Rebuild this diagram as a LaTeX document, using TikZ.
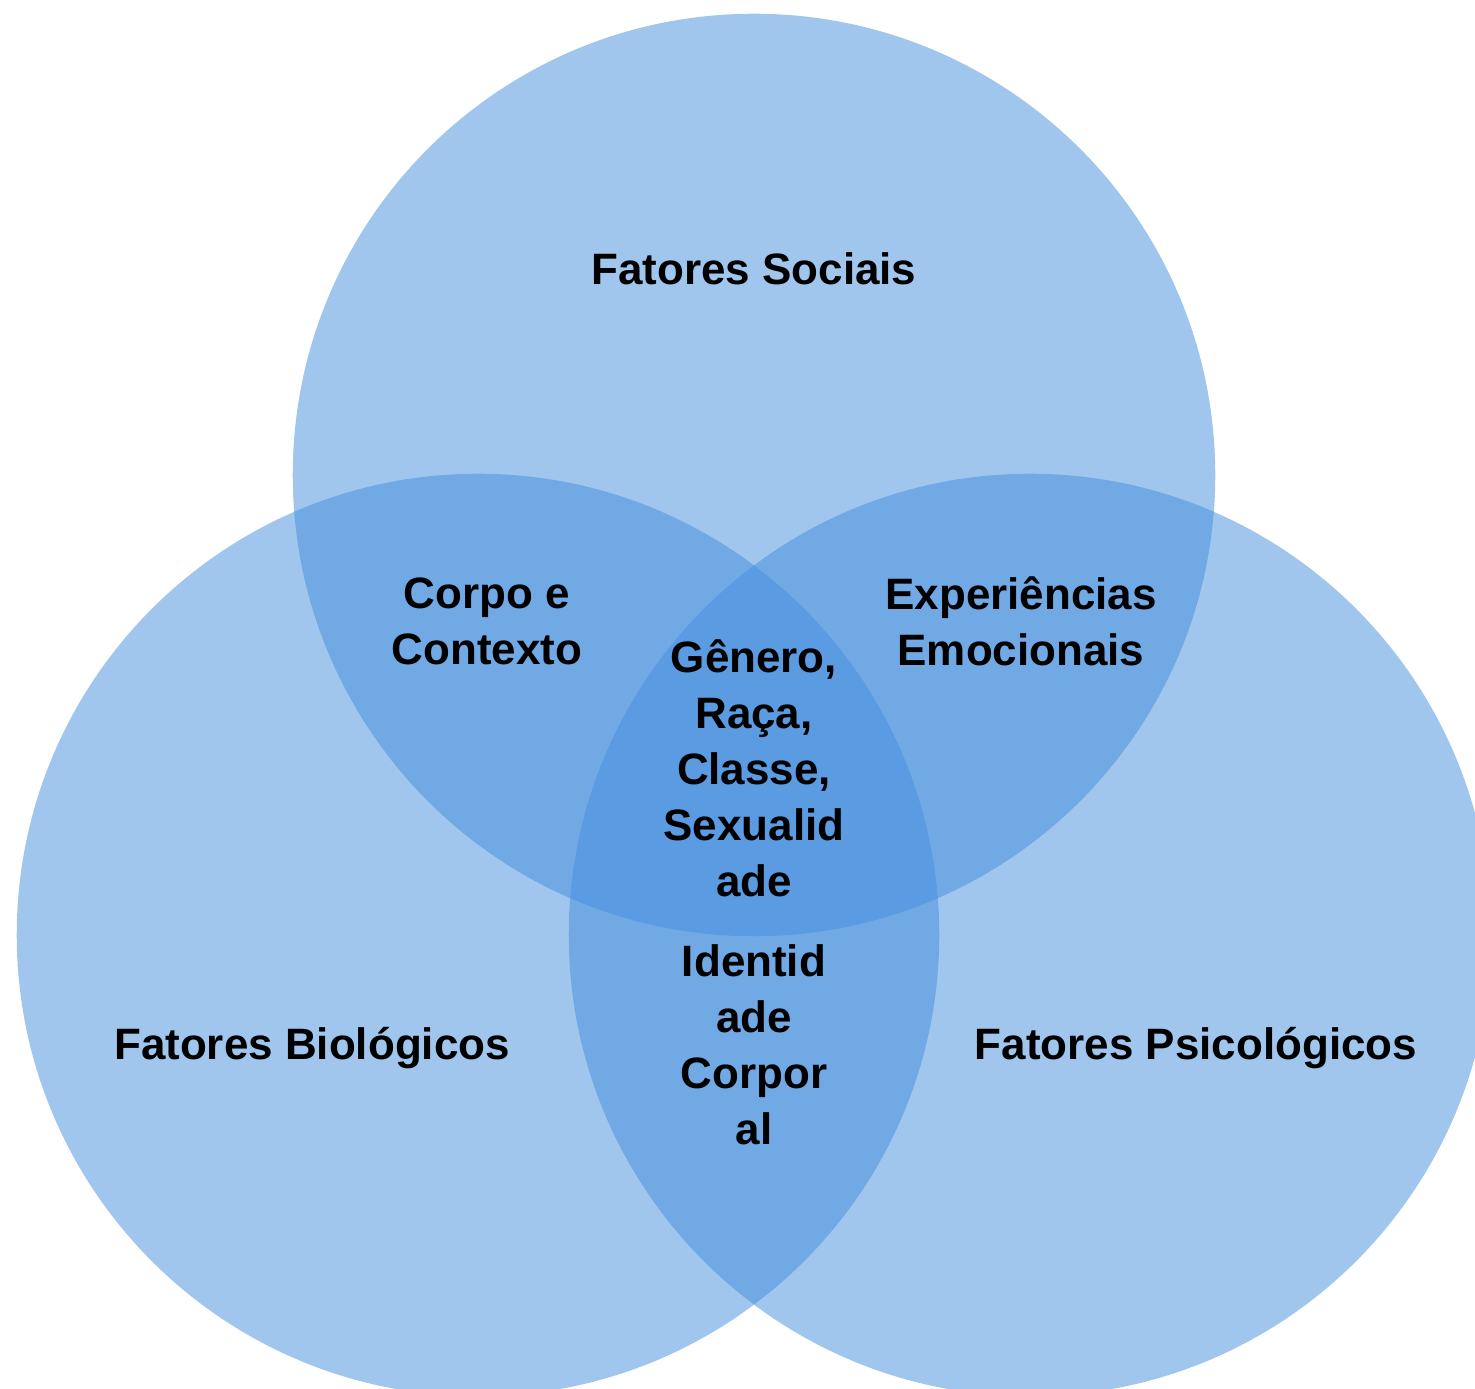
\documentclass[tikz,border=0pt]{standalone}
\usepackage{fontspec}
\setmainfont{Liberation Sans}
\usepackage{tikz}

\definecolor{vennblue}{RGB}{67,141,221}

\tikzset{
    venn/.style={fill=vennblue,fill opacity=0.5,draw=none},
    lbl/.style={font=\bfseries\fontsize{12.5}{15.9}\selectfont,align=center,text=black}
}

\begin{document}
\begin{tikzpicture}[line cap=round,line join=round,x=0.01cm,y=-0.01cm]
        \useasboundingbox (0,0) rectangle (1475,1389);
        \begin{scope}
            \clip (0,0) rectangle (1475,1389);
            \fill [venn] (754,475) circle (4.61cm);
            \fill [venn] (478,935) circle (4.61cm);
            \fill [venn] (1030,935) circle (4.61cm);
        \end{scope}
        \node [lbl] (sociais) at (754,269) {Fatores Sociais};
        \node [lbl] (biologicos) at (312,1048) {Fatores Biológicos};
        \node [lbl] (psicologicos) at (1196,1048) {Fatores Psicológicos};
        \node [lbl] (contexto) at (487,621) {Corpo e\\Contexto};
        \node [lbl] (emocionais) at (1021,621) {Experiências\\Emocionais};
        \node [lbl] (genero) at (754,768) {Gênero,\\Raça,\\Classe,\\Sexualid\\ade};
        \node [lbl] (identidade) at (754,1045) {Identid\\ade\\Corpor\\al};
    \end{tikzpicture}
\end{document}
